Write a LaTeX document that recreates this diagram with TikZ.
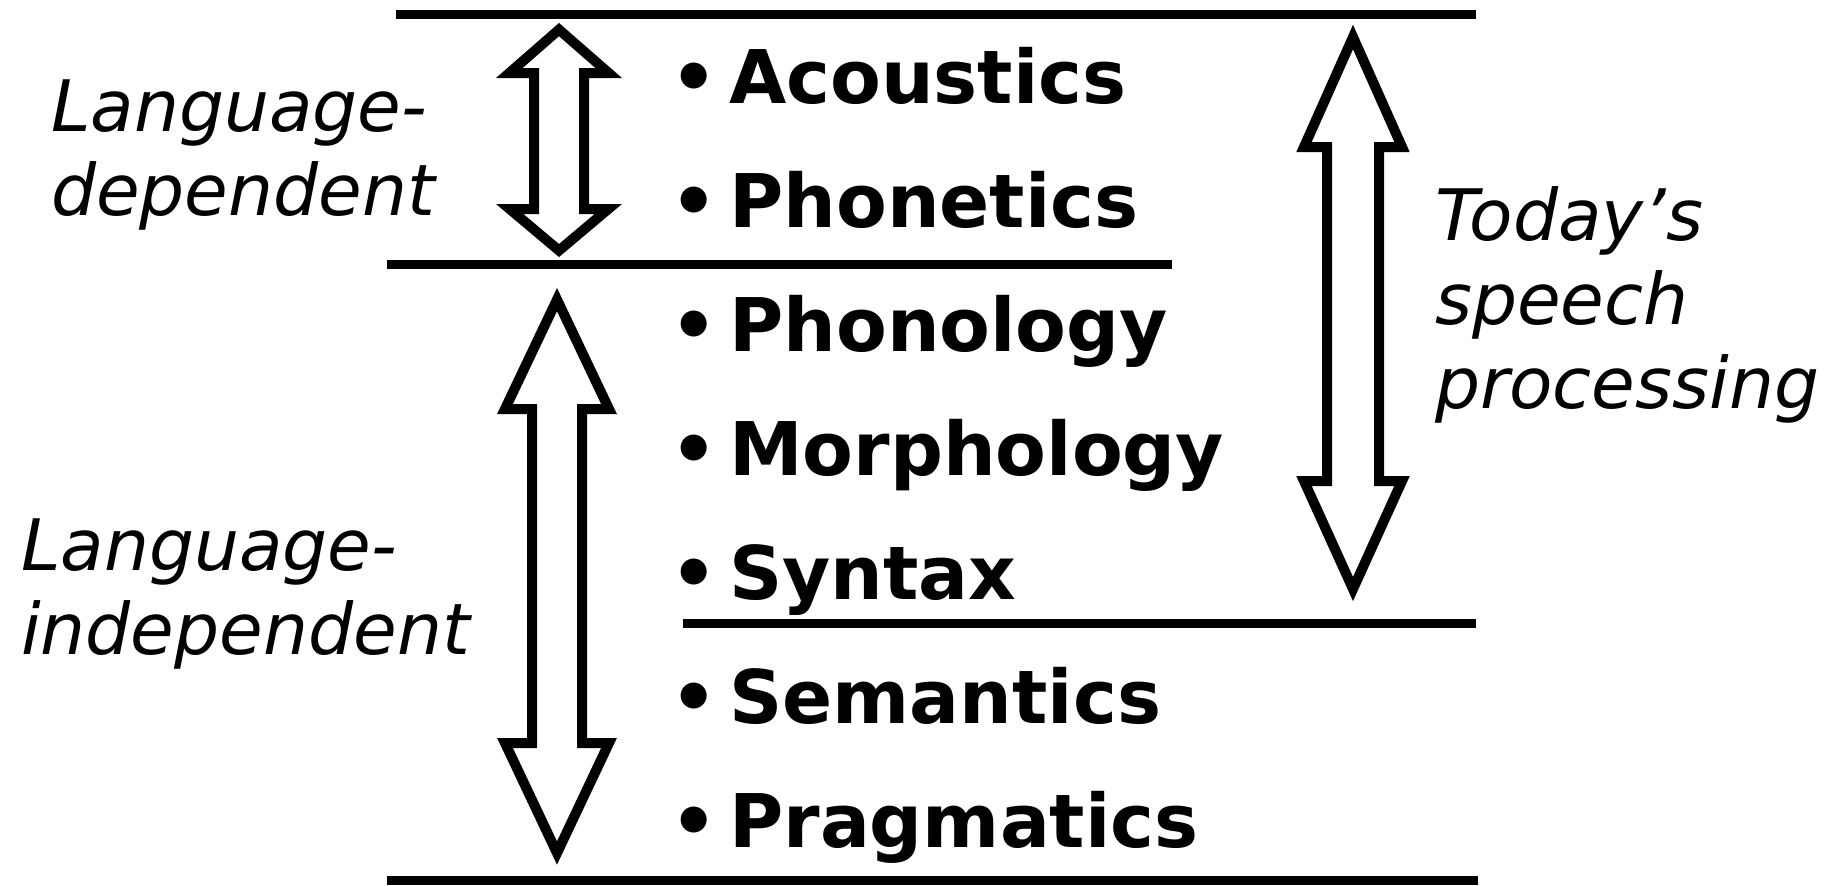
\documentclass[tikz,border=0pt]{standalone}
\usepackage{fontspec}
\setmainfont{DejaVu Sans}
\usepackage{tikz}
\usetikzlibrary{positioning}

\begin{document}
\begin{tikzpicture}[
  x=0.5pt, y=-0.5pt,
  every node/.style={inner sep=0pt, outer sep=0pt},
  topic/.style={anchor=base west, font=\fontsize{37}{44}\selectfont\bfseries},
  side/.style={anchor=base west, align=left, font=\fontsize{35.5}{42}\selectfont\itshape},
  rule/.style={line width=4.5pt},
  fatarrow/.style={draw, line width=5pt, fill=white, line join=miter}
]
\useasboundingbox (0,0) rectangle (1837,885);

% horizontal rules
\draw[rule] (396,14) -- (1476,14);
\draw[rule] (387,264) -- (1172,264);
\draw[rule] (683,623) -- (1476,623);
\draw[rule] (387,880) -- (1478,880);

% double arrows
\draw[fatarrow] (559,29.6) -- (608.7,73) -- (584,73) -- (584,209) -- (608.3,209) -- (559,250.5)
  -- (509.7,209) -- (534,209) -- (534,73) -- (509.3,73) -- cycle;
\draw[fatarrow] (557,299.6) -- (609,409) -- (582,409) -- (582,743) -- (609,743) -- (557,853)
  -- (505,743) -- (532,743) -- (532,409) -- (505,409) -- cycle;
\draw[fatarrow] (1353,37) -- (1402,147) -- (1379,147) -- (1379,481) -- (1402,481) -- (1353,589)
  -- (1304,481) -- (1327,481) -- (1327,147) -- (1304,147) -- cycle;

% levels
\node[topic] (aco) at (670,103) {\textbullet\hspace{6pt}Acoustics};
\node[topic] (phonet) at (670,227) {\textbullet\hspace{6pt}Phonetics};
\node[topic] (phonol) at (670,351) {\textbullet\hspace{6pt}Phonology};
\node[topic] (morph) at (670,475) {\textbullet\hspace{6pt}Morphology};
\node[topic] (syn) at (670,599) {\textbullet\hspace{6pt}Syntax};
\node[topic] (sem) at (670,723) {\textbullet\hspace{6pt}Semantics};
\node[topic] (prag) at (670,847) {\textbullet\hspace{6pt}Pragmatics};

% side labels (base = last line)
\node[side] (dep) at (51,215) {Language-\\dependent};
\node[side] (indep) at (21,654) {Language-\\independent};
\node[side] (today) at (1435,408) {Today’s\\speech\\processing};

\end{tikzpicture}
\end{document}
